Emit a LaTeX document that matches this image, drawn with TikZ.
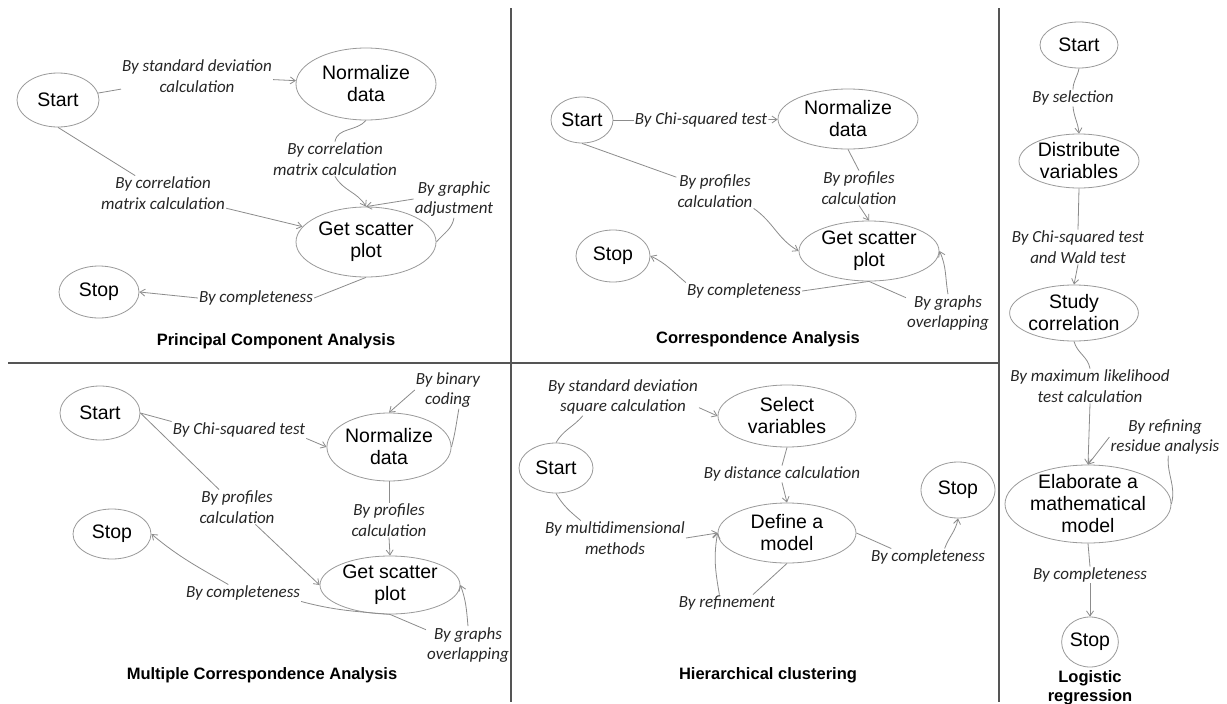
\documentclass[tikz,border=0pt]{standalone}
\usepackage{fontspec}
\setmainfont{Liberation Sans}
\newfontfamily\lblfont{Carlito}
\usetikzlibrary{shapes.geometric,arrows.meta}
\definecolor{edgecol}{HTML}{8C8C8C}
\definecolor{ellcol}{HTML}{9A9A9A}
\definecolor{framecol}{HTML}{555555}
\definecolor{labcol}{HTML}{262626}
\begin{document}
\begin{tikzpicture}[x=1pt,y=1pt,
 st/.style={ellipse, draw=ellcol, line width=0.8pt, inner xsep=0pt, inner ysep=-3pt, align=center, font=\fontsize{19.5}{22}\selectfont},
 lbl/.style={inner sep=1pt, align=center, text=labcol, font=\lblfont\itshape\fontsize{17}{20.5}\selectfont},
 ttl/.style={align=center, font=\bfseries\fontsize{16.5}{19}\selectfont},
 con/.style={draw=edgecol, line width=0.8pt},
 arr/.style={con, -{Straight Barb[length=5pt,width=7pt]}},
 frame/.style={draw=framecol, line width=1.3pt}]

\fill[white] (0,0) rectangle (1227,-704);
\useasboundingbox (0,0) rectangle (1227,-704);
\draw[frame] (8,-363) -- (999,-363);
\draw[frame] (511,-8) -- (511,-702);
\draw[frame] (999,-8) -- (999,-702);

% ---------- Principal Component Analysis ----------
\node[st, minimum width=82pt, minimum height=54pt] (pS) at (58,-100) {Start};
\node[st, minimum width=140pt, minimum height=72pt] (pN) at (366,-84) {Normalize\\data};
\node[st, minimum width=140pt, minimum height=70pt] (pG) at (366,-242) {Get scatter\\plot};
\node[st, minimum width=80pt, minimum height=52pt] (pE) at (99,-292) {Stop};
\node[lbl] (pl1) at (197,-76) {By standard deviation\\calculation};
\node[lbl] (pl2) at (163,-193) {By correlation\\matrix calculation};
\node[lbl] (pl3) at (335,-159) {By correlation\\matrix calculation};
\node[lbl] (pl4) at (454,-199) {By graphic\\adjustment};
\node[lbl] (pl5) at (256,-298) {By completeness};
\node[ttl] (pT) at (276,-341) {Principal Component Analysis};
\draw[con] (pS) -- (pl1);
\draw[arr] (pl1) -- (pN);
\draw[con] (pS.south) -- (pl2);
\draw[arr] (pl2) -- (pG);
\draw[con] (pN.south) to[out=-130,in=80] (pl3.north);
\draw[arr] (pl3.south) to[out=-60,in=120] (pG.north);
\draw[con] (pG.east) to[out=50,in=-100] (pl4.south);
\draw[arr] (pl4.west) -- (pG.north);
\draw[con] (pG.south) -- (pl5.east);
\draw[arr] (pl5.west) -- (pE.east);

% ---------- Correspondence Analysis ----------
\node[st, minimum width=62pt, minimum height=46pt] (cS) at (582,-120) {Start};
\node[st, minimum width=140pt, minimum height=60pt] (cN) at (848,-119) {Normalize\\data};
\node[st, minimum width=140pt, minimum height=60pt] (cG) at (869,-251) {Get scatter\\plot};
\node[st, minimum width=74pt, minimum height=52pt] (cE) at (613,-256) {Stop};
\node[lbl] (cl1) at (701,-120) {By Chi-squared test};
\node[lbl] (cl2) at (715,-191) {By profiles\\calculation};
\node[lbl] (cl3) at (859,-188) {By profiles\\calculation};
\node[lbl] (cl4) at (744,-291) {By completeness};
\node[lbl] (cl5) at (948,-313) {By graphs\\overlapping};
\node[ttl] (cT) at (758,-339) {Correspondence Analysis};
\draw[con] (cS) -- (cl1);
\draw[arr] (cl1) -- (cN);
\draw[con] (cS.south) -- (cl2);
\draw[arr] (cl2.south east) to[out=-35,in=150] (cG.west);
\draw[con] (cN.south) -- (cl3.north);
\draw[arr] (cl3.south) -- (cG.north);
\draw[con] (cG.south) -- (cl4.east);
\draw[arr] (cl4.north west) to[out=140,in=-25] (cE.east);
\draw[con] (cG.south) -- (cl5.160);
\draw[arr] (cl5.north) to[out=100,in=-65] (cG.east);

% ---------- Multiple Correspondence Analysis ----------
\node[st, minimum width=80pt, minimum height=54pt] (mS) at (100,-413) {Start};
\node[st, minimum width=120pt, minimum height=68pt] (mN) at (389,-447) {Normalize\\data};
\node[st, minimum width=140pt, minimum height=58pt] (mG) at (390,-585) {Get scatter\\plot};
\node[st, minimum width=78pt, minimum height=50pt] (mE) at (112,-534) {Stop};
\node[lbl] (ml1) at (239,-430) {By Chi-squared test};
\node[lbl] (ml2) at (237,-507) {By profiles\\calculation};
\node[lbl] (ml3) at (389,-520) {By profiles\\calculation};
\node[lbl] (ml4) at (448,-390) {By binary\\coding};
\node[lbl] (ml5) at (243,-593) {By completeness};
\node[lbl] (ml6) at (468,-645) {By graphs\\overlapping};
\node[ttl] (mT) at (262,-675) {Multiple Correspondence Analysis};
\draw[con] (mS.east) -- (ml1.north west);
\draw[arr] (ml1.south east) -- (mN.west);
\draw[con] (mS.east) -- (ml2);
\draw[arr] (ml2) -- (mG.west);
\draw[con] (mN.south) -- (ml3.north);
\draw[arr] (ml3.south) -- (mG.north);
\draw[con] (mN.east) to[out=75,in=-100] (ml4.-60);
\draw[arr] (ml4.west) -- (mN.north);
\draw[con] (mG.south) to[out=175,in=-15] (ml5.south east);
\draw[arr] (ml5.150) to[out=150,in=-40] (mE.east);
\draw[con] (mG.south) -- (ml6.160);
\draw[arr] (ml6.north) to[out=95,in=-70] (mG.east);

% ---------- Hierarchical clustering ----------
\node[st, minimum width=74pt, minimum height=50pt] (hS) at (556,-468) {Start};
\node[st, minimum width=138pt, minimum height=62pt] (hV) at (787,-416) {Select\\variables};
\node[st, minimum width=138pt, minimum height=60pt] (hD) at (787,-533) {Define a\\model};
\node[st, minimum width=74pt, minimum height=56pt] (hE) at (958,-490) {Stop};
\node[lbl] (hl1) at (623,-397) {By standard deviation\\square calculation};
\node[lbl] (hl2) at (782,-474) {By distance calculation};
\node[lbl] (hl3) at (615,-538) {By multidimensional\\methods};
\node[lbl] (hl4) at (727,-603) {By refinement};
\node[lbl] (hl5) at (928,-557) {By completeness};
\node[ttl] (hT) at (768,-675) {Hierarchical clustering};
\draw[con] (hS.north) to[out=60,in=-130] (hl1.-155);
\draw[arr] (hl1.-8) -- (hV.west);
\draw[con] (hV.south) -- (hl2.north);
\draw[arr] (hl2.south) -- (hD.north);
\draw[con] (hS.south) to[out=-60,in=140] (hl3.153);
\draw[arr] (hl3.east) -- (hD.west);
\draw[con] (hD.south) -- (hl4.18);
\draw[arr] (hl4.132) to[out=100,in=-100] (hD.west);
\draw[con] (hD.east) -- (hl5.167);
\draw[arr] (hl5.27) to[out=70,in=-100] (hE.south);

% ---------- Logistic regression ----------
\node[st, minimum width=78pt, minimum height=46pt] (rS) at (1079,-45) {Start};
\node[st, minimum width=120pt, minimum height=54pt] (rD) at (1079,-161) {Distribute\\variables};
\node[st, minimum width=128pt, minimum height=56pt] (rC) at (1074,-313) {Study\\correlation};
\node[st, minimum width=166pt, minimum height=78pt] (rM) at (1088,-504) {Elaborate a\\mathematical\\model};
\node[st, minimum width=56pt, minimum height=50pt] (rE) at (1090,-642) {Stop};
\node[lbl] (rl1) at (1073,-98) {By selection};
\node[lbl] (rl2) at (1078,-247) {By Chi-squared test\\and Wald test};
\node[lbl] (rl3) at (1090,-386) {By maximum likelihood\\test calculation};
\node[lbl] (rl4) at (1165,-437) {By refining\\residue analysis};
\node[lbl] (rl5) at (1090,-575) {By completeness};
\node[ttl] (rT) at (1090,-688) {Logistic\\regression};
\draw[con] (rS.south) to[out=-100,in=90] (rl1.north);
\draw[arr] (rl1.south) to[out=-85,in=95] (rD.north);
\draw[con] (rD.south) -- (rl2.north);
\draw[arr] (rl2.south) -- (rC.north);
\draw[con] (rC.south) to[out=-75,in=100] (rl3.north);
\draw[arr] (rl3.south) -- (rM.north);
\draw[con] (rM.east) to[out=75,in=-95] (rl4.-80);
\draw[arr] (rl4.west) -- (rM.north);
\draw[con] (rM.south) -- (rl5.north);
\draw[arr] (rl5.south) -- (rE.north);
\end{tikzpicture}
\end{document}
